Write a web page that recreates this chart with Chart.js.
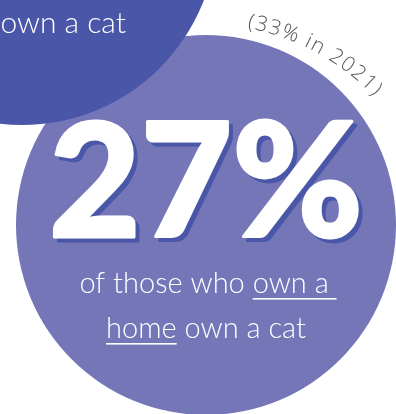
<!DOCTYPE html>
<html>
<head>
<meta charset="utf-8">
<script src="https://cdn.jsdelivr.net/npm/chart.js@4.4.1/dist/chart.umd.min.js"></script>
<style>
  html, body { margin: 0; padding: 0; background: #ffffff; overflow: hidden; }
  #wrap { width: 396px; height: 414px; }
</style>
</head>
<body>
<div id="wrap"><canvas id="c" width="396" height="414"></canvas></div>
<script>
// Headline figures
const shareValue = [27];
const shareUnit = ['%'];
const previousShare = [33];
const previousYear = [2021];

// Caption text, split into plain / underlined runs
const captionLine1 = ['of those who ', 'own a '];
const captionLine1Underline = [false, true];
const captionLine2 = ['home', ' own a cat'];
const captionLine2Underline = [true, false];
const cornerCaption = ['own a cat'];

// Layout of the two discs (pixel space of the canvas)
const discs = {
  main:   { x: 206, y: 225, r: 190, color: '#7476b8', order: 1 },
  corner: { x: 22,  y: -70, r: 195, color: '#4a57a8', order: 0 }
};

const WHITE = '#ffffff';
const SHADOW = '#4a57a8';
const GREY = '#555555';
const CAPTION_FONT = '300 29px Lato, "Open Sans", sans-serif';

function drawRuns(ctx, runs, flags, cx, baseline) {
  const widths = runs.map(t => ctx.measureText(t).width);
  const total = widths.reduce((a, b) => a + b, 0);
  let x = cx - total / 2;
  runs.forEach((t, i) => {
    ctx.fillText(t, x, baseline);
    if (flags[i]) ctx.fillRect(x, baseline + 5, widths[i], 1.6);
    x += widths[i];
  });
}

function drawArcText(ctx, text, cx, cy, r, midAngle, spacing) {
  const chars = Array.from(text);
  const widths = chars.map(ch => ctx.measureText(ch).width);
  const total = widths.reduce((a, b) => a + b, 0) + spacing * (chars.length - 1);
  let a = midAngle - total / (2 * r);
  chars.forEach((ch, i) => {
    const w = widths[i];
    const ac = a + (w / 2) / r;
    ctx.save();
    ctx.translate(cx + r * Math.cos(ac), cy + r * Math.sin(ac));
    ctx.rotate(ac + Math.PI / 2);
    ctx.textAlign = 'center';
    ctx.fillText(ch, 0, 0);
    ctx.restore();
    a += (w + spacing) / r;
  });
}

// Heavy rounded headline: fill plus a round-joined stroke of the same colour
function drawHeavyText(ctx, text, x, y, color) {
  ctx.fillStyle = color;
  ctx.strokeStyle = color;
  ctx.lineWidth = 3;
  ctx.lineJoin = 'round';
  ctx.strokeText(text, x, y);
  ctx.fillText(text, x, y);
}

const labelsPlugin = {
  id: 'badgeLabels',
  afterDatasetsDraw(chart) {
    const ctx = chart.ctx;
    const xs = chart.scales.x, ys = chart.scales.y;
    const mx = xs.getPixelForValue(discs.main.x);
    const my = ys.getPixelForValue(discs.main.y);
    ctx.save();
    ctx.textBaseline = 'alphabetic';

    // Caption inside the corner disc
    ctx.fillStyle = WHITE;
    ctx.font = '300 30px Lato, "Open Sans", sans-serif';
    ctx.textAlign = 'right';
    ctx.fillText(cornerCaption[0], 126, 33);

    // Big headline number with offset shadow
    const headline = shareValue[0] + shareUnit[0];
    ctx.textAlign = 'center';
    ctx.font = '900 158px Lato, sans-serif';
    drawHeavyText(ctx, headline, mx + 4, 241, SHADOW);
    drawHeavyText(ctx, headline, mx, 237, WHITE);

    // Caption under the headline
    ctx.textAlign = 'left';
    ctx.font = CAPTION_FONT;
    ctx.fillStyle = WHITE;
    drawRuns(ctx, captionLine1, captionLine1Underline, mx + 2, 293);
    drawRuns(ctx, captionLine2, captionLine2Underline, mx, 338);

    // Previous-year note curving above the rim of the main disc
    ctx.fillStyle = GREY;
    ctx.font = '300 21px "Open Sans", sans-serif';
    const note = '(' + previousShare[0] + '% in ' + previousYear[0] + ')';
    drawArcText(ctx, note, mx - 2, my + 35, 236, -61.7 * Math.PI / 180, 1.5);

    ctx.restore();
  }
};

const discDataset = d => ({
  data: [{ x: d.x, y: d.y }],
  pointRadius: d.r,
  pointHoverRadius: d.r,
  pointBackgroundColor: d.color,
  pointBorderWidth: 0,
  pointBorderColor: d.color,
  order: d.order,
  clip: false
});

new Chart(document.getElementById('c'), {
  type: 'scatter',
  data: { datasets: [discDataset(discs.corner), discDataset(discs.main)] },
  options: {
    responsive: false,
    animation: false,
    events: [],
    layout: { padding: 0, autoPadding: false },
    scales: {
      x: { type: 'linear', min: 0, max: 396, display: false },
      y: { type: 'linear', min: 0, max: 414, reverse: true, display: false }
    },
    plugins: { legend: { display: false }, tooltip: { enabled: false } }
  },
  plugins: [labelsPlugin]
});
</script>
</body>
</html>
